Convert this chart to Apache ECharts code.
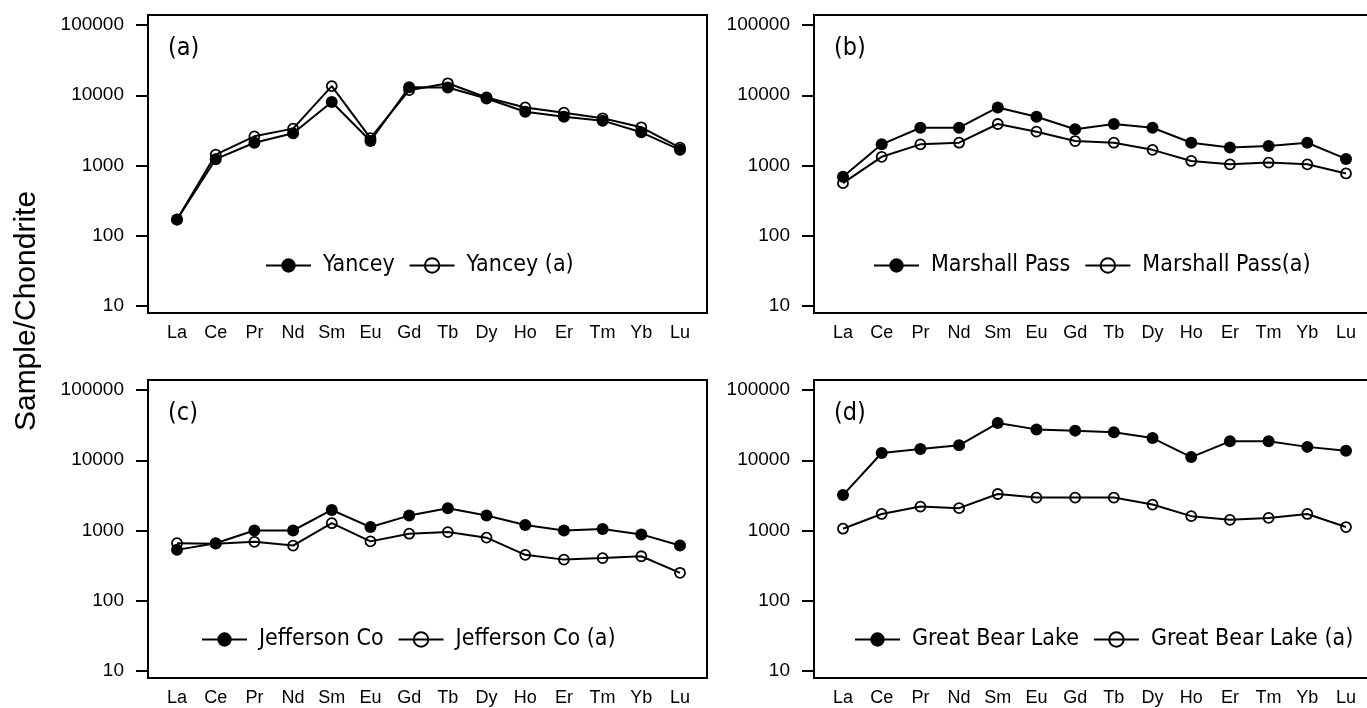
<!DOCTYPE html>
<html>
<head>
<meta charset="utf-8">
<script src="https://cdn.jsdelivr.net/npm/echarts@6/dist/echarts.min.js"></script>
<style>
html,body{margin:0;padding:0;background:#fff;}
#chart{width:1367px;height:708px;}
</style>
</head>
<body>
<div id="chart"></div>
<script>
// ---- data ----
var elements = ['La','Ce','Pr','Nd','Sm','Eu','Gd','Tb','Dy','Ho','Er','Tm','Yb','Lu'];

var yancey        = [170, 1230, 2110, 2870, 8000, 2230, 13000, 12900, 9000, 5830, 4950, 4350, 2970, 1670];
var yanceyA       = [170, 1430, 2600, 3350, 13500, 2450, 11800, 14800, 9300, 6700, 5650, 4700, 3500, 1800];
var marshall      = [690, 2000, 3450, 3450, 6700, 4950, 3280, 3900, 3450, 2110, 1800, 1900, 2110, 1240];
var marshallA     = [560, 1330, 2000, 2110, 3900, 3030, 2230, 2110, 1670, 1160, 1040, 1100, 1040, 770];
var jefferson     = [530, 660, 1000, 1000, 1960, 1120, 1630, 2080, 1630, 1200, 1000, 1050, 880, 612];
var jeffersonA    = [660, 650, 690, 610, 1270, 700, 900, 950, 790, 450, 385, 405, 430, 250];
var greatBear     = [3190, 12700, 14460, 16330, 33800, 27500, 26400, 25000, 20700, 11100, 18600, 18600, 15500, 13700];
var greatBearA    = [1060, 1720, 2190, 2080, 3310, 2940, 2940, 2940, 2340, 1600, 1420, 1510, 1720, 1120];

var panelLabels = ['(a)', '(b)', '(c)', '(d)'];
var seriesNames = [
  ['Yancey', 'Yancey (a)'],
  ['Marshall Pass', 'Marshall Pass(a)'],
  ['Jefferson Co', 'Jefferson Co (a)'],
  ['Great Bear Lake', 'Great Bear Lake (a)']
];
var seriesData = [
  [yancey, yanceyA],
  [marshall, marshallA],
  [jefferson, jeffersonA],
  [greatBear, greatBearA]
];
var yTitle = 'Sample/Chondrite';

// ---- layout ----
var panels = [
  {L:148, T:15,  legL:265, legT:254},
  {L:814, T:15,  legL:873, legT:254},
  {L:148, T:380, legL:201, legT:628},
  {L:814, T:380, legL:854, legT:628}
];
var FRAME_W = 559, FRAME_H = 298, INSET = 29;
var NARROW = '"Liberation Sans Narrow", "DejaVu Sans Condensed", "Liberation Sans", sans-serif';
var SANS = '"Liberation Sans", Arial, sans-serif';

var grid = [], xAxis = [], yAxis = [], series = [], legend = [], graphic = [];

panels.forEach(function (p) {
  grid.push({left: p.L + INSET, top: p.T + 10, width: 503, height: 281, show: false, outerBoundsMode: 'none'});
});
panels.forEach(function (p) {
  grid.push({left: p.L, top: p.T, width: FRAME_W, height: FRAME_H, show: true,
    borderColor: '#000', borderWidth: 2, backgroundColor: 'rgba(0,0,0,0)', outerBoundsMode: 'none'});
});

panels.forEach(function (p, i) {
  xAxis.push({
    gridIndex: i, type: 'category', data: elements, boundaryGap: false,
    axisLine: {show: false}, axisTick: {show: false}, splitLine: {show: false},
    axisLabel: {margin: 18, fontSize: 18, fontFamily: SANS, color: '#000', interval: 0}
  });
  yAxis.push({
    gridIndex: i, type: 'log', logBase: 10, min: 10, max: 100000, offset: INSET,
    axisLine: {show: false}, splitLine: {show: false},
    axisTick: {show: true, inside: false, length: 12, lineStyle: {color: '#000', width: 2}},
    axisLabel: {margin: 24, fontSize: 19, fontFamily: SANS, color: '#000',
      formatter: function (v) { return String(Math.round(v)); }}
  });
});
panels.forEach(function (p, i) {
  xAxis.push({gridIndex: 4 + i, type: 'value', show: false, min: 0, max: 1});
  yAxis.push({gridIndex: 4 + i, type: 'value', show: false, min: 0, max: 1});
});

panels.forEach(function (p, i) {
  var names = seriesNames[i], d = seriesData[i];
  series.push({
    name: names[0], type: 'line', xAxisIndex: i, yAxisIndex: i, data: d[0],
    symbol: 'circle', symbolSize: 12, showAllSymbol: true,
    lineStyle: {color: '#000', width: 2},
    itemStyle: {color: '#000'}, z: 3
  });
  series.push({
    name: names[1], type: 'line', xAxisIndex: i, yAxisIndex: i, data: d[1],
    symbol: 'circle', symbolSize: 10, showAllSymbol: true,
    lineStyle: {color: '#000', width: 2},
    itemStyle: {color: 'rgba(0,0,0,0)', borderColor: '#000', borderWidth: 1.8}, z: 4
  });
  legend.push({
    data: names, left: p.legL, top: p.legT, width: 600, orient: 'horizontal', padding: 0,
    itemWidth: 45, itemHeight: 18, itemGap: 14, selectedMode: false,
    textStyle: {fontFamily: NARROW, fontSize: 23, color: '#000', padding: [0, 0, 0, 7]}
  });
  graphic.push({
    type: 'text', left: p.L + 20, top: p.T + 21,
    style: {text: panelLabels[i], font: '25px ' + NARROW, fill: '#000'}
  });
});

graphic.push({
  type: 'text', x: 27, y: 311, rotation: Math.PI / 2,
  style: {text: yTitle, font: '30px ' + SANS, fill: '#000', align: 'center', verticalAlign: 'middle'}
});

var chart = echarts.init(document.getElementById('chart'), null, {renderer: 'canvas'});
chart.setOption({
  animation: false,
  backgroundColor: '#fff',
  grid: grid, xAxis: xAxis, yAxis: yAxis, series: series, legend: legend, graphic: graphic
});
</script>
</body>
</html>
